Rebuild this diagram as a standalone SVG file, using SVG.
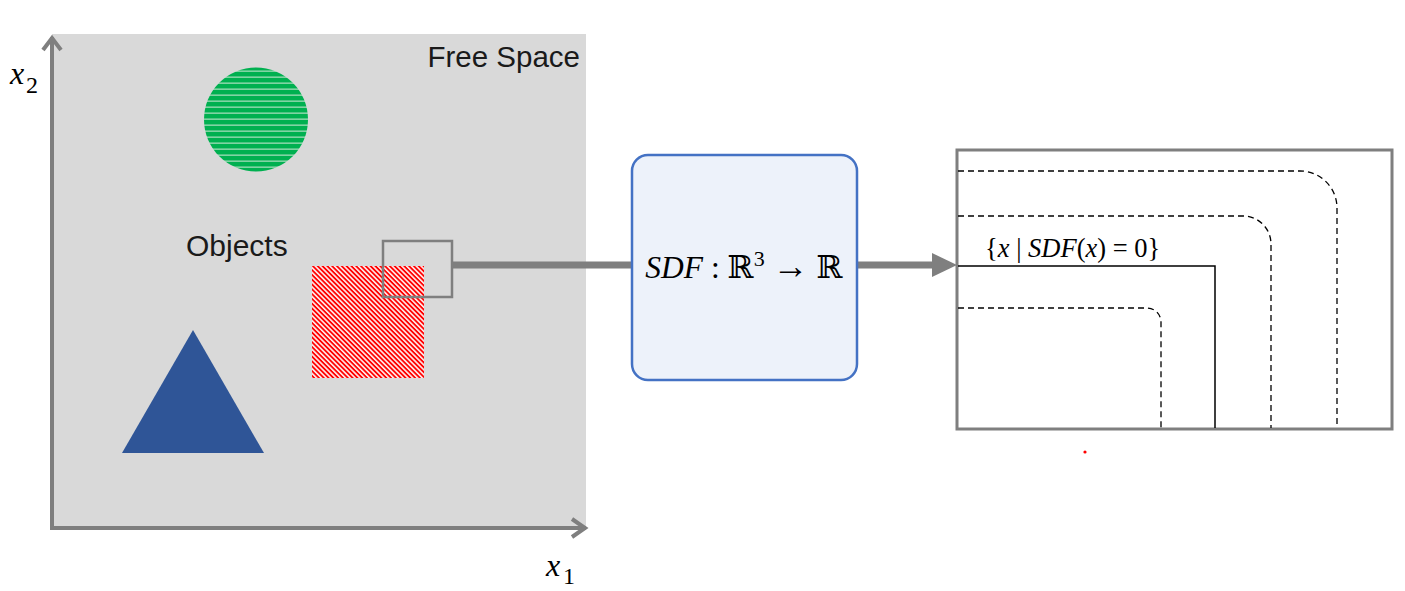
<svg xmlns="http://www.w3.org/2000/svg" width="1405" height="591" viewBox="0 0 1405 591">
<style>
.axis{stroke:#7f7f7f;stroke-width:4;fill:none}
.gray{stroke:#7f7f7f;fill:none}
.math{font-family:"Liberation Serif","DejaVu Serif",serif;fill:#000}
.sans{font-family:"Liberation Sans",Arial,sans-serif;fill:#1a1a1a}
.dash{stroke:#000;stroke-width:1.3;fill:none;stroke-dasharray:6,4}
</style>
<defs>
<pattern id="hstripe" width="8" height="6" patternUnits="userSpaceOnUse">
<rect width="8" height="6" fill="#00b050"/>
<rect y="4.5" width="8" height="1.3" fill="#9fdcb8"/>
</pattern>
<pattern id="dstripe" width="8" height="3.4" patternUnits="userSpaceOnUse" patternTransform="rotate(45)">
<rect width="8" height="3.4" fill="#ff0000"/>
<rect y="1.8" width="8" height="1.6" fill="#ffecec"/>
</pattern>
</defs>
<rect width="1405" height="591" fill="#fff"/>

<g id="space">
<rect x="52" y="34" width="534" height="494" fill="#d9d9d9"/>
<text class="sans" x="580" y="67" font-size="29.5" text-anchor="end">Free Space</text>
<text class="sans" x="186" y="256" font-size="30">Objects</text>
</g>

<g id="axes">
<path class="axis" d="M52,528 V37"/>
<path class="axis" d="M43,50 L52,38 L61,50"/>
<path class="axis" d="M50,528 H586"/>
<path class="axis" d="M572,519 L585,528 L572,537"/>
<text class="math" x="10" y="84" font-size="32" font-style="italic">x</text>
<text class="math" x="26" y="93" font-size="24">2</text>
<text class="math" x="546" y="576" font-size="32" font-style="italic">x</text>
<text class="math" x="563" y="584" font-size="24">1</text>
</g>

<g id="circle">
<circle cx="256" cy="119.5" r="52" fill="url(#hstripe)"/>
</g>

<g id="square">
<rect x="312" y="266" width="112" height="112" fill="url(#dstripe)"/>
</g>

<g id="triangle">
<polygon points="193,330 122,453 264,453" fill="#2f5597"/>
</g>

<g id="zoombox">
<rect class="gray" x="383" y="241" width="69" height="56" stroke-width="2.5"/>
</g>

<g id="connectors">
<line x1="452" y1="265" x2="632" y2="265" stroke="#7f7f7f" stroke-width="7"/>
<line x1="857" y1="265" x2="935" y2="265" stroke="#7f7f7f" stroke-width="7"/>
<path d="M932,253 L957,265 L932,277 Z" fill="#7f7f7f"/>
</g>

<g id="sdf">
<rect x="632" y="155" width="225" height="225" rx="16" ry="16" fill="#edf2fa" stroke="#4472c4" stroke-width="2.5"/>
<text class="math" x="744" y="278" font-size="31.5" text-anchor="middle"><tspan font-style="italic">SDF</tspan> : ℝ<tspan font-size="22" dy="-12">3</tspan><tspan dy="12"> <tspan font-size="36">→</tspan> ℝ</tspan></text>
</g>

<g id="field">
<rect class="gray" x="957" y="150" width="435" height="279" stroke-width="3"/>
<path class="dash" d="M958,171 H1300 A37,37 0 0 1 1337,208 V428"/>
<path class="dash" d="M958,216 H1243 A28,28 0 0 1 1271,244 V428"/>
<path class="dash" d="M958,308 H1147 A14,14 0 0 1 1161,322 V428"/>
<path d="M958,266 H1215 V428" stroke="#000" stroke-width="1.5" fill="none"/>
<text class="math" x="985" y="257" font-size="26.5">{<tspan font-style="italic">x</tspan> | <tspan font-style="italic">SDF</tspan>(<tspan font-style="italic">x</tspan>) = 0}</text>
<circle cx="1085" cy="452" r="1.6" fill="#ff0000"/>
</g>
</svg>
